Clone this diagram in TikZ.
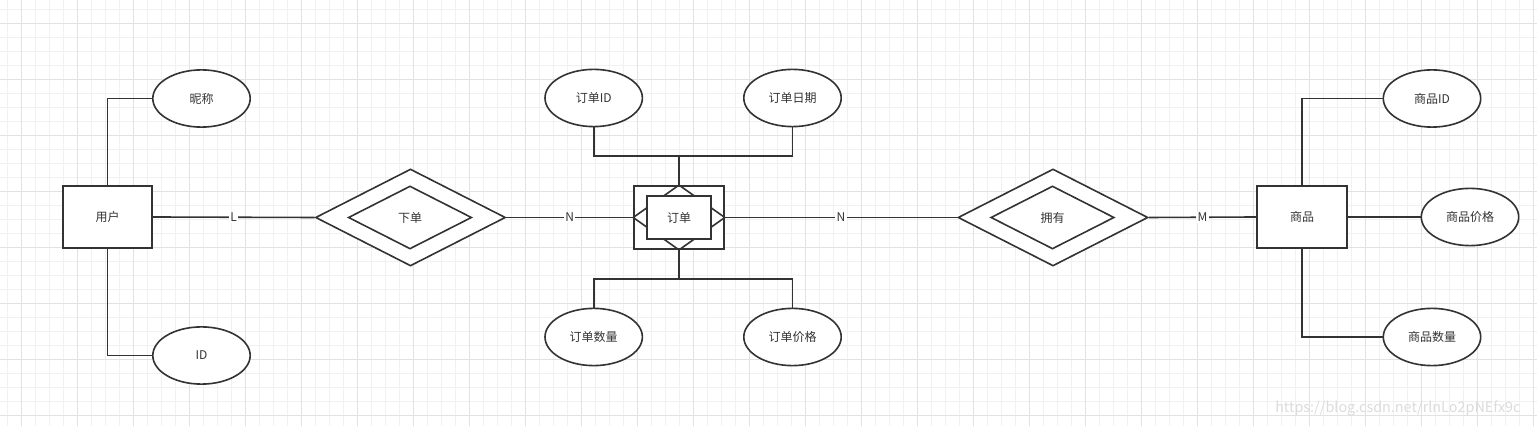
\documentclass[tikz,border=0pt]{standalone}
\usepackage{fontspec}
\setmainfont{Noto Sans CJK SC}
\usetikzlibrary{shapes.geometric}
\definecolor{erline}{HTML}{333333}
\definecolor{ergridmin}{HTML}{F1F1F1}
\definecolor{ergridmaj}{HTML}{E2E2E2}
\definecolor{ermark}{HTML}{DCDCDC}

\tikzset{
  entity/.style={draw=erline, fill=white, minimum height=31pt, inner sep=0pt},
  attr/.style={ellipse, draw=erline, fill=white, minimum width=48.7pt, minimum height=28.6pt, inner sep=0pt},
  relout/.style={diamond, draw=erline, fill=white, minimum width=95pt, minimum height=48.5pt, inner sep=0pt},
  relin/.style={diamond, draw=erline, minimum width=61.7pt, minimum height=31.5pt, inner sep=0pt},
  card/.style={fill=white, inner sep=0.6pt},
}

\begin{document}
\begin{tikzpicture}[x=0.5pt, y=-0.5pt, line width=0.8pt, erline,
    font=\fontsize{6pt}{7pt}\selectfont]
  \useasboundingbox (0,0) rectangle (1537,426);
  \fill[white] (0,0) rectangle (1537,426);

  % background grid
  \foreach \gx in {0,...,109}
    \draw[ergridmin, line width=0.5pt] (7.7+14*\gx,0) -- (7.7+14*\gx,426);
  \foreach \gy in {0,...,29}
    \draw[ergridmin, line width=0.5pt] (0,10+14*\gy) -- (1537,10+14*\gy);
  \foreach \gx in {0,...,27}
    \draw[ergridmaj, line width=0.5pt] (21.7+56*\gx,0) -- (21.7+56*\gx,426);
  \foreach \gy in {0,...,7}
    \draw[ergridmaj, line width=0.5pt] (0,24+56*\gy) -- (1537,24+56*\gy);

  % entities
  \node[entity, minimum width=44.5pt] (user) at (107.5,217) {用户};
  \node[entity, minimum width=45pt] (goods) at (1302,217) {商品};

  % associative entity 订单
  \node[entity, minimum width=45pt, minimum height=31.6pt] (order) at (679,217.5) {};
  \draw (order.north) -- (order.east) -- (order.south) -- (order.west) -- cycle;
  \node[entity, minimum width=32.2pt, minimum height=21.7pt] (orderin) at (679,217.5) {订单};

  % relationships
  \node[relout] (place) at (410.5,217.5) {};
  \node[relin] (placein) at (410,217.5) {下单};
  \node[relout] (own) at (1053,217.5) {};
  \node[relin] (ownin) at (1052.5,217.5) {拥有};

  % attributes
  \node[attr] (nick) at (201.5,98.5) {昵称};
  \node[attr] (uid) at (201.5,355.5) {ID};
  \node[attr] (oid) at (593.7,98) {订单ID};
  \node[attr] (odate) at (792.5,98) {订单日期};
  \node[attr] (onum) at (593.7,337) {订单数量};
  \node[attr] (oprice) at (792.5,337) {订单价格};
  \node[attr] (gid) at (1432,98.5) {商品ID};
  \node[attr] (gprice) at (1470,217) {商品价格};
  \node[attr] (gnum) at (1432,337) {商品数量};

  % attribute links
  \draw (user.north) |- (nick.west);
  \draw (user.south) |- (uid.west);
  \coordinate (otop) at (679,156);
  \coordinate (obot) at (679,279);
  \draw (oid.south) |- (otop) -- (order.north);
  \draw (odate.south) |- (otop);
  \draw (onum.north) |- (obot) -- (order.south);
  \draw (oprice.north) |- (obot);
  \draw (goods.north) |- (gid.west);
  \draw (goods.east) -- (gprice.west);
  \draw (goods.south) |- (gnum.west);

  % relationship links with cardinality
  \draw (user.east) -- node[card] {L} (place.west);
  \draw (place.east) -- node[card] {N} (order.west);
  \draw (order.east) -- node[card] {N} (own.west);
  \draw (own.east) -- node[card] {M} (goods.west);

  % watermark
  \node[ermark, anchor=base east, font=\fontsize{7.2pt}{8pt}\selectfont] (mark) at (1528,413)
    {https://blog.csdn.net/rlnLo2pNEfx9c};
\end{tikzpicture}
\end{document}
